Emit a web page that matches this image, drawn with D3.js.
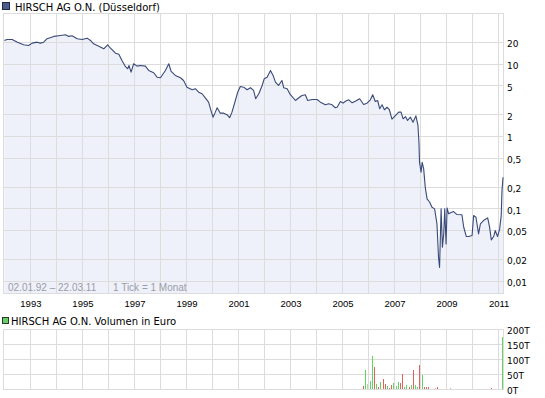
<!DOCTYPE html>
<html><head><meta charset="utf-8">
<script src="https://cdn.jsdelivr.net/npm/d3@7"></script>
<style>
html,body{margin:0;padding:0;background:#fff;}
svg{display:block;}
</style></head>
<body>
<svg id="chart" width="545" height="398"></svg>
<script>
// ---------- data ----------
const chartTitle = "HIRSCH AG O.N. (Düsseldorf)";
const volumeTitle = "HIRSCH AG O.N. Volumen in Euro";
const rangeNote = "02.01.92 – 22.03.11";
const tickNote = "1 Tick = 1 Monat";

// price: time in decimal years, value in EUR
const priceTimes = [
1992.00,1992.10,1992.30,1992.50,1992.74,1992.93,
1993.07,1993.26,1993.38,1993.51,1993.64,1993.90,
1994.09,1994.35,1994.47,1994.60,1994.80,1994.99,
1995.18,1995.31,1995.43,1995.63,1995.82,1995.97,
1996.08,1996.27,1996.40,1996.52,1996.65,1996.74,1996.79,1996.87,1996.97,
1997.10,1997.23,1997.42,1997.55,1997.74,1997.87,
1998.00,1998.19,1998.32,1998.41,1998.57,1998.77,1998.89,
1999.02,1999.22,1999.34,1999.47,1999.60,1999.73,1999.85,1999.94,
2000.02,2000.11,2000.18,2000.30,2000.43,2000.56,2000.66,2000.75,2000.88,2000.97,
2001.07,2001.20,2001.33,2001.46,2001.58,2001.66,2001.78,2001.91,2001.99,
2002.10,2002.23,2002.33,2002.42,2002.54,2002.67,2002.74,2002.87,2002.99,
2003.19,2003.32,2003.44,2003.57,2003.66,2003.83,
2004.02,2004.15,2004.34,2004.47,2004.60,2004.72,2004.79,2004.92,
2005.02,2005.11,2005.24,2005.37,2005.49,2005.66,2005.81,2005.94,
2006.07,2006.16,2006.26,2006.35,2006.43,2006.52,2006.61,2006.71,2006.80,2006.90,
2007.03,2007.16,2007.25,2007.33,2007.42,2007.50,2007.61,2007.71,2007.82,2007.90,2007.94,2007.96,
2008.02,2008.06,2008.12,2008.18,2008.25,2008.35,2008.44,2008.54,2008.63,2008.69,2008.73,2008.79,2008.84,2008.89,2008.93,2008.98,
2009.02,2009.08,2009.17,2009.27,2009.40,2009.59,2009.66,2009.76,2009.85,2009.98,
2010.04,2010.13,2010.23,2010.30,2010.42,2010.58,2010.65,2010.72,2010.81,2010.87,2010.96,
2011.04,2011.10,2011.13,2011.17
];
const priceValues = [
21.0,21.7,21.7,19.9,18.3,17.9,
19.3,19.9,19.3,19.9,22.2,23.9,
24.4,25.2,23.9,24.4,22.2,21.7,
22.6,21.0,18.9,17.5,16.1,18.3,
16.4,14.0,13.5,11.1,9.18,8.52,9.47,7.65,10.0,
9.26,9.47,9.26,8.08,7.5,6.52,
6.4,8.08,10.0,7.82,6.89,6.4,5.87,
4.74,4.36,4.51,4.04,3.84,3.34,2.94,2.26,
1.82,2.14,2.46,2.07,2.07,1.97,1.79,2.14,3.10,4.04,
4.85,4.74,4.36,4.65,4.27,3.28,3.84,5.01,6.20,
6.52,8.08,6.89,5.56,5.01,5.87,4.65,4.51,3.76,
3.10,3.38,3.64,3.72,3.10,3.20,
3.20,2.94,2.70,2.79,2.70,2.46,2.50,3.00,
2.85,3.03,3.17,2.88,3.03,3.28,2.73,2.85,
3.17,3.72,3.00,3.10,2.38,2.70,2.31,2.50,2.31,1.71,
1.92,2.14,2.14,1.73,1.86,1.64,1.82,1.55,1.9,1.40,0.78,0.434,
0.315,0.434,0.351,0.195,0.135,0.121,0.103,0.098,0.0608,0.021,0.0152,0.098,0.0288,0.0442,0.098,0.0321,
0.101,0.0837,0.0872,0.090,0.0818,0.0813,0.0546,0.0406,0.0406,0.0419,
0.0792,0.075,0.0442,0.0608,0.0675,0.0736,0.0558,0.0365,0.0406,0.0491,0.0406,
0.0518,0.0792,0.176,0.269
];

// volume (thousand EUR) per month, with direction
const volumeMonths = ["2005-10","2005-11","2005-12","2006-01","2006-02","2006-03","2006-04","2006-05","2006-06","2006-07","2006-08","2006-09","2006-10","2006-11","2006-12","2007-01","2007-02","2007-03","2007-04","2007-05","2007-06","2007-07","2007-08","2007-09","2007-10","2007-11","2007-12","2008-01","2008-02","2008-03","2008-04","2008-07","2008-08","2009-02","2010-09","2011-02"];
const volumeValues = [11,64,20,27,112,75,20,8,24,34,19,11,6,14,23,12,24,21,51,7,14,7,14,64,14,8,81,47,10,8,8,4,8,4,4,176];
const volumeDirection = ["d","u","n","u","u","d","u","d","u","d","d","u","d","d","u","u","u","d","d","u","u","d","u","d","u","u","d","u","d","d","d","m","d","g","d","u"];

const yearGrid = d3.range(1993, 2012);
const yearLabels = [1993,1995,1997,1999,2001,2003,2005,2007,2009,2011];
const priceTicks = [20,10,5,2,1,0.5,0.2,0.1,0.05,0.02,0.01];
const priceTickLabels = ["20","10","5","2","1","0,5","0,2","0,1","0,05","0,02","0,01"];
const volumeTicks = [200,150,100,50,0];
const volumeTickLabels = ["200T","150T","100T","50T","0T"];

// ---------- drawing ----------
const svg = d3.select("#chart");
const L = 3.5, R = 503.5, T = 13.5, B = 293.5;
const VT = 329.5, VB = 389.5;
const gridColor = "#dcdcdc";
const font = "'DejaVu Sans', Verdana, sans-serif";

const x = d3.scaleLinear().domain([1993, 2011]).range([30.4, 498.6]);
const y = d3.scaleLog().domain([0.01, 20]).range([280.5, 42]);
const yv = d3.scaleLinear().domain([0, 200]).range([VB, VT]);

// titles
svg.append("rect").attr("x",2.5).attr("y",2.5).attr("width",7).attr("height",7)
  .attr("fill","#4a5b8c").attr("stroke","#1f2a44");
svg.append("text").attr("x",15).attr("y",10.5).text(chartTitle)
  .attr("font-family",font).attr("font-size",10).attr("fill","#000");

// price area + grid
const pts = d3.zip(priceTimes, priceValues);
const area = d3.area().x(d=>x(d[0])).y0(B).y1(d=>y(d[1]));
const line = d3.line().x(d=>x(d[0])).y(d=>y(d[1]));

svg.append("path").attr("d", area(pts)).attr("fill","#eef1fa");

const gp = svg.append("g").attr("stroke",gridColor).attr("stroke-width",1).attr("shape-rendering","crispEdges");
gp.selectAll("line.v").data(yearGrid).join("line")
  .attr("x1",d=>Math.floor(x(d))+0.5).attr("x2",d=>Math.floor(x(d))+0.5).attr("y1",T).attr("y2",B);
gp.selectAll("line.h").data(priceTicks).join("line").attr("class","h")
  .attr("x1",L).attr("x2",R).attr("y1",d=>Math.round(y(d))+0.5).attr("y2",d=>Math.round(y(d))+0.5);
gp.append("rect").attr("x",L).attr("y",T).attr("width",R-L).attr("height",B-T).attr("fill","none");

svg.append("path").attr("d", line(pts)).attr("fill","none")
  .attr("stroke","#3a4a78").attr("stroke-width",1.1).attr("stroke-linejoin","round");

// notes inside plot
svg.append("text").attr("x",8).attr("y",291).text(rangeNote)
  .attr("font-family","'Liberation Sans', Arial, sans-serif").attr("font-size",10).attr("fill","#9c9ca6");
svg.append("text").attr("x",113).attr("y",291).text(tickNote)
  .attr("font-family","'Liberation Sans', Arial, sans-serif").attr("font-size",10).attr("fill","#9c9ca6");

// right price axis
const ay = svg.append("g").attr("transform",`translate(${R},0)`)
  .call(d3.axisRight(y).tickValues(priceTicks).tickFormat((d,i)=>priceTickLabels[i]).tickSize(0).tickPadding(3.5));
ay.select(".domain").remove();
ay.selectAll("text").attr("font-family",font).attr("font-size",9).attr("fill","#000").attr("dy","0.55em");

// bottom year axis
const ax = svg.append("g").attr("transform",`translate(0,${B})`)
  .call(d3.axisBottom(x).tickValues(yearLabels).tickFormat(d3.format("d")).tickSize(0).tickPadding(6.5));
ax.select(".domain").remove();
ax.selectAll("text").attr("font-family","'Liberation Sans', Arial, sans-serif").attr("font-size",9.5).attr("fill","#000");

// volume panel
svg.append("rect").attr("x",2.5).attr("y",317.5).attr("width",6).attr("height",6)
  .attr("fill","#66d066").attr("stroke","#2a3a2a");
svg.append("text").attr("x",11).attr("y",324.5).text(volumeTitle)
  .attr("font-family",font).attr("font-size",10).attr("fill","#000");

const gv = svg.append("g").attr("stroke",gridColor).attr("stroke-width",1).attr("shape-rendering","crispEdges");
gv.selectAll("line.v").data(yearGrid).join("line")
  .attr("x1",d=>Math.floor(x(d))+0.5).attr("x2",d=>Math.floor(x(d))+0.5).attr("y1",VT).attr("y2",VB);
gv.selectAll("line.h").data(volumeTicks).join("line").attr("class","h")
  .attr("x1",L).attr("x2",R).attr("y1",d=>yv(d)).attr("y2",d=>yv(d));
gv.append("rect").attr("x",L).attr("y",VT).attr("width",R-L).attr("height",VB-VT).attr("fill","none");

const dirColor = {u:"#5fd65f", d:"#de6262", n:"#a9e3a3", m:"#d9a5a5", g:"#bdbdbd"};
const vols = volumeMonths.map((m,i)=>{
  const [yr,mo] = m.split("-").map(Number);
  return {t: yr + (mo-0.5)/12, v: volumeValues[i], c: dirColor[volumeDirection[i]]};
});
svg.append("g").attr("shape-rendering","crispEdges").selectAll("rect").data(vols).join("rect")
  .attr("x",d=>Math.round(x(d.t))).attr("width",1)
  .attr("y",d=>yv(d.v)).attr("height",d=>VB-0.5-yv(d.v))
  .attr("fill",d=>d.c);

const av = svg.append("g").attr("transform",`translate(${R},0)`)
  .call(d3.axisRight(yv).tickValues(volumeTicks).tickFormat((d,i)=>volumeTickLabels[i]).tickSize(0).tickPadding(3.5));
av.select(".domain").remove();
av.selectAll("text").attr("font-family",font).attr("font-size",9).attr("fill","#000").attr("dy","0.4em");
</script>
</body></html>
